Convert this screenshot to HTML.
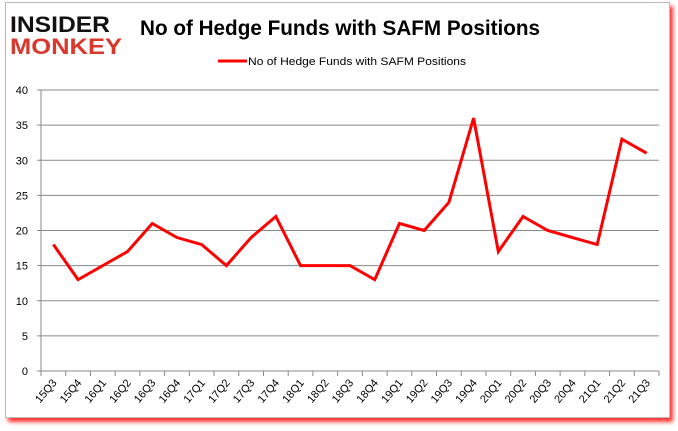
<!DOCTYPE html>
<html><head><meta charset="utf-8">
<style>
body{margin:0;width:678px;height:431px;background:#fff;overflow:hidden;font-family:"Liberation Sans",sans-serif;}
#card{position:absolute;left:5px;top:2px;width:663px;height:414px;border:1px solid #bbb;background:#fff;box-shadow:3px 4px 4px rgba(255,0,0,0.8);}
</style></head><body>
<div id="card"></div>
<svg width="678" height="431" style="position:absolute;left:0;top:0">
<g font-family="Liberation Sans, sans-serif" font-weight="bold">
<text x="10" y="32" font-size="22" fill="#111" textLength="100" lengthAdjust="spacingAndGlyphs">INSIDER</text>
<text x="10" y="54" font-size="22" fill="#d9382b" textLength="112" lengthAdjust="spacingAndGlyphs">MONKEY</text>
</g>
<text x="140" y="35" font-size="21" font-weight="bold" fill="#000" textLength="400" lengthAdjust="spacingAndGlyphs">No of Hedge Funds with SAFM Positions</text>
<g>
<line x1="218" y1="61" x2="247" y2="61" stroke="#f00" stroke-width="3"/>
<text x="248" y="65" font-size="11" fill="#000" textLength="218" lengthAdjust="spacingAndGlyphs">No of Hedge Funds with SAFM Positions</text>
</g>
<g id="axes"></g>
<g id="series"></g>
</svg>
<script>
const categories=["15Q3","15Q4","16Q1","16Q2","16Q3","16Q4","17Q1","17Q2","17Q3","17Q4","18Q1","18Q2","18Q3","18Q4","19Q1","19Q2","19Q3","19Q4","20Q1","20Q2","20Q3","20Q4","21Q1","21Q2","21Q3"];
const values=[18,13,15,17,21,19,18,15,19,22,15,15,15,13,21,20,24,36,17,22,20,19,18,33,31];
const yTicks=[0,5,10,15,20,25,30,35,40];
const NS="http://www.w3.org/2000/svg";
const L=41,R=659,T=90,B=371,yMax=40;
const band=(R-L)/categories.length;
const xs=i=>L+band*(i+0.5);
const ys=v=>B-(v/yMax)*(B-T);
function mk(tag,attrs,parent){const e=document.createElementNS(NS,tag);for(const k in attrs)e.setAttribute(k,attrs[k]);parent.appendChild(e);return e;}
const ax=document.getElementById('axes');
yTicks.forEach(t=>{
 const g=mk('line',{x1:L,x2:R,y1:ys(t),y2:ys(t),stroke:t===0?'#888':'#8a8a8a','stroke-width':1},ax);
 
 
 mk('line',{x1:L-4,x2:L,y1:ys(t),y2:ys(t),stroke:'#888'},ax);
 const tx=mk('text',{x:L-13,y:ys(t)+4,'font-size':11,'text-anchor':'end',fill:'#000'},ax);
 tx.textContent=t;
 
 
});
mk('line',{x1:L,x2:L,y1:T,y2:B,stroke:'#888'},ax);
for(let i=0;i<=categories.length;i++){mk('line',{x1:L+band*i,x2:L+band*i,y1:B,y2:B+5,stroke:'#888'},ax);}
categories.forEach((c,i)=>{
 const x=xs(i)+4,y=B+12;
 const tx=mk('text',{x:x,y:y,'font-size':11,'text-anchor':'end',fill:'#000',transform:`rotate(-50 ${x} ${y})`},ax);
 tx.textContent=c;
 
 
});
const pts=values.map((v,i)=>xs(i)+','+ys(v)).join(' ');
const line=mk('polyline',{points:pts,fill:'none',stroke:'#f00','stroke-width':3,'stroke-linejoin':'miter'},document.getElementById('series'));


</script>
</body></html>
